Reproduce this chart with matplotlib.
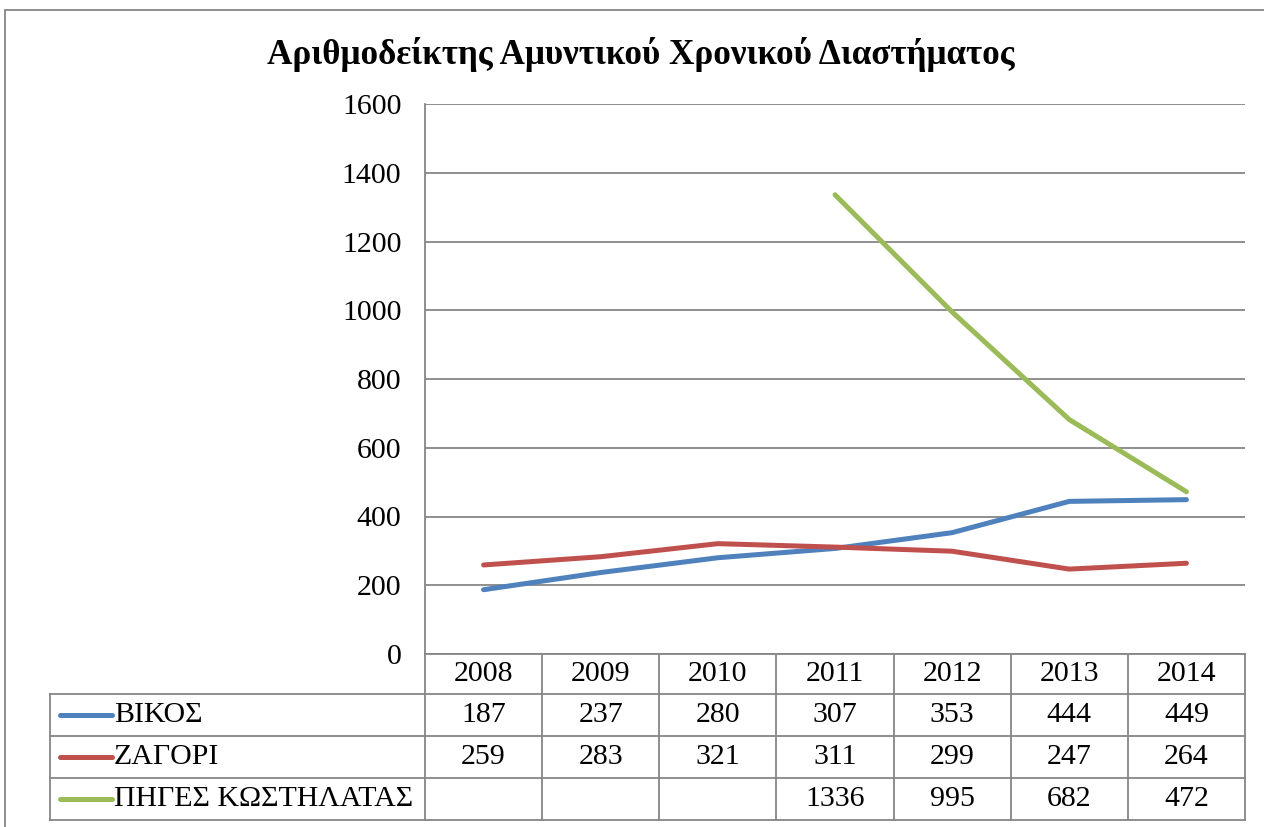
import matplotlib
matplotlib.use('Agg')
import matplotlib.pyplot as plt
import numpy as np
from matplotlib.lines import Line2D
from matplotlib.patches import Rectangle
from matplotlib.transforms import blended_transform_factory

plt.rcParams['font.family'] = ['Liberation Serif', 'DejaVu Serif']

years = ['2008', '2009', '2010', '2011', '2012', '2013', '2014']
vikos = [187, 237, 280, 307, 353, 444, 449]
zagori = [259, 283, 321, 311, 299, 247, 264]
piges = [None, None, None, 1336, 995, 682, 472]
series_names = ['ΒΙΚΟΣ', 'ΖΑΓΟΡΙ', 'ΠΗΓΕΣ ΚΩΣΤΗΛΑΤΑΣ']
colors = ['#4F81BD', '#C0504D', '#9BBB59']
title = 'Αριθμοδείκτης Αμυντικού Χρονικού Διαστήματος'

W, H = 1264, 827
grid_c = '#868686'
fs = 21.5


def fx(px):
    return px / W


def fy(py):
    return 1 - py / H


fig = plt.figure(figsize=(W / 100, H / 100), dpi=100)
ax = fig.add_axes([fx(425), fy(654), fx(1245) - fx(425), fy(104) - fy(654)])

x = np.arange(len(years))
for vals, c in zip([vikos, zagori, piges], colors):
    y = np.array([np.nan if v is None else v for v in vals], dtype=float)
    ax.plot(x, y, color=c, lw=3.6, solid_capstyle='round', solid_joinstyle='round')

ax.set_xlim(-0.5, len(years) - 0.5)
ax.set_ylim(0, 1600)
ax.set_yticks(range(0, 1601, 200))
ax.set_xticks([])
ax.tick_params(axis='y', length=0, pad=17, labelsize=fs)
ax.grid(axis='y', color=grid_c, lw=1.3)
ax.set_axisbelow(True)
for s in ['top', 'right', 'bottom']:
    ax.spines[s].set_visible(False)
ax.spines['left'].set_color(grid_c)
ax.spines['left'].set_linewidth(1.3)

fig.text(fx(641), fy(55), title, ha='center', va='center', fontsize=25.3, fontweight='bold')

# outer chart border
fig.add_artist(Rectangle((fx(5), fy(900)), fx(1300), fy(10) - fy(900), transform=fig.transFigure,
                         fill=False, edgecolor=grid_c, lw=1.3))

# data table
tr = blended_transform_factory(ax.transData, fig.transFigure)
row_lines = [654, 694, 736, 778, 820]
for i, py in enumerate(row_lines):
    x0 = 425 if i == 0 else 50
    fig.add_artist(Line2D([fx(x0), fx(1245)], [fy(py), fy(py)], transform=fig.transFigure,
                          color=grid_c, lw=1.3))
for k in range(len(years) + 1):
    fig.add_artist(Line2D([k - 0.5, k - 0.5], [fy(654), fy(820)], transform=tr, color=grid_c, lw=1.3))
fig.add_artist(Line2D([fx(50), fx(50)], [fy(694), fy(820)], transform=fig.transFigure, color=grid_c, lw=1.3))

for i, yr in enumerate(years):
    fig.text(i, fy(674), yr, transform=tr, ha='center', va='center', fontsize=fs)

row_centers = [715, 757, 799]
for vals, name, c, py in zip([vikos, zagori, piges], series_names, colors, row_centers):
    fig.add_artist(Line2D([fx(60), fx(112)], [fy(py), fy(py)], transform=fig.transFigure,
                          color=c, lw=3.6, solid_capstyle='round'))
    fig.text(fx(114), fy(py), name, ha='left', va='center', fontsize=fs)
    for i, v in enumerate(vals):
        if v is not None:
            fig.text(i, fy(py), str(v), transform=tr, ha='center', va='center', fontsize=fs)

fig.savefig('out.png', dpi=100)
